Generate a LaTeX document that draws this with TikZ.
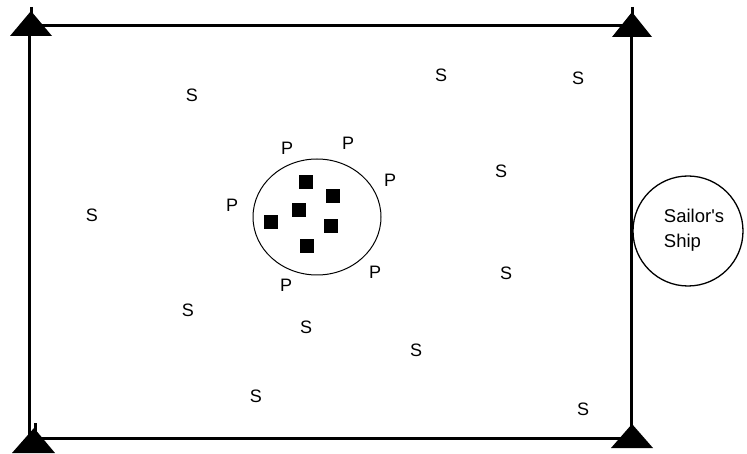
\documentclass[tikz,border=0pt]{standalone}
\usepackage{fontspec}
\setmainfont{Liberation Sans}
\usetikzlibrary{shapes.geometric}
\begin{document}
\begin{tikzpicture}[x=1pt,y=-1pt,
  lbl/.style={font=\fontsize{18}{20}\selectfont,inner sep=0pt,anchor=center},
  sq/.style={fill=black,draw=none,minimum size=14pt,inner sep=0pt},
  post/.style={fill=black,draw=none},
  edge/.style={line width=3pt}]
\useasboundingbox (0,0) rectangle (747,454);
% border
\coordinate (tl) at (29,26);
\coordinate (tr) at (631,26);
\coordinate (br) at (631,438);
\coordinate (bl) at (29,438);
\draw[edge] (tl) -- (tr) -- (br) -- (bl) -- cycle;
% corner posts
\fill[post] (10,36) -- (31,11) -- (52,36) -- cycle;
\draw[line width=3pt] (31,7) -- (31,16);
\fill[post] (612,37) -- (632,12) -- (652,37) -- cycle;
\draw[line width=3pt] (632,7) -- (632,16);
\fill[post] (12,453) -- (34,428) -- (55,453) -- cycle;
\draw[line width=3pt] (35,423) -- (35,432);
\fill[post] (611,448) -- (632,424) -- (653,448) -- cycle;
% ellipse with squares
\node[draw,line width=1pt,ellipse,minimum width=128pt,minimum height=116pt,inner sep=0pt] (herd) at (317,217) {};
\node[sq] (q1) at (306,182) {};
\node[sq] (q2) at (333,196) {};
\node[sq] (q3) at (299,210) {};
\node[sq] (q4) at (271,222) {};
\node[sq] (q5) at (331,226) {};
\node[sq] (q6) at (307,246) {};
% P labels
\node[lbl] (p1) at (287,148) {P};
\node[lbl] (p2) at (348,143) {P};
\node[lbl] (p3) at (390,180) {P};
\node[lbl] (p4) at (232,205) {P};
\node[lbl] (p5) at (375,272) {P};
\node[lbl] (p6) at (286,285) {P};
% S labels
\node[lbl] (s1) at (192,95) {S};
\node[lbl] (s2) at (441,75) {S};
\node[lbl] (s3) at (578,78) {S};
\node[lbl] (s4) at (92,215) {S};
\node[lbl] (s5) at (501,171) {S};
\node[lbl] (s6) at (506,273) {S};
\node[lbl] (s7) at (188,310) {S};
\node[lbl] (s8) at (306,327) {S};
\node[lbl] (s9) at (416,350) {S};
\node[lbl] (s10) at (256,396) {S};
\node[lbl] (s11) at (583,409) {S};
% ship
\node[draw,line width=1.3pt,circle,minimum size=110pt,inner sep=0pt] (ship) at (688,231) {};
\node[font=\fontsize{18.5}{25}\selectfont,align=left,inner sep=0pt] (shiptxt) at (694,230) {Sailor\textquotesingle s\\Ship};
\end{tikzpicture}
\end{document}
